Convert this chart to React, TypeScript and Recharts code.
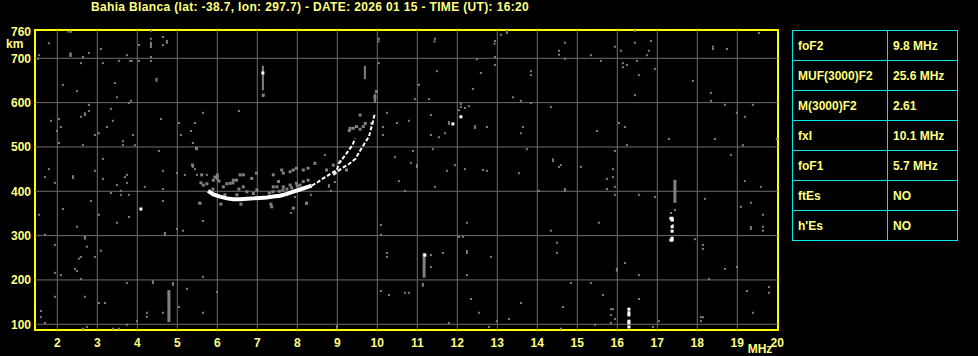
import { ScatterChart, Scatter, XAxis, YAxis, ReferenceLine, ReferenceArea } from 'recharts';

const TITLE = 'Bahia Blanca (lat: -38.7, lon: 297.7) - DATE: 2026 01 15 - TIME (UT): 16:20';

const X_TICKS = [2, 3, 4, 5, 6, 7, 8, 9, 10, 11, 12, 13, 14, 15, 16, 17, 18, 19, 20];
const Y_TICKS = [100, 200, 300, 400, 500, 600, 700, 760];
const X_GRID = [2, 3, 4, 5, 6, 7, 8, 9, 10, 11, 12, 13, 14, 15, 16, 17, 18, 19];
const Y_GRID = [100, 200, 300, 400, 500, 600, 700];
const X_MIN = 1.4425, X_MAX = 20.0175;
const Y_MIN = 87.1, Y_MAX = 763.8;

const PARAM_NAMES = ['foF2', 'MUF(3000)F2', 'M(3000)F2', 'fxI', 'foF1', 'ftEs', "h'Es"];
const PARAM_VALUES = ['9.8 MHz', '25.6 MHz', '2.61', '10.1 MHz', '5.7 MHz', 'NO', 'NO'];

// ordinary trace, thick lower part (freq MHz, virtual height km)
const O_LOW: [number, number][] = [
  [5.77, 401], [5.9, 393], [6.07, 388], [6.24, 384], [6.4, 382], [6.57, 382], [6.74, 383],
  [6.9, 384], [7.07, 385], [7.24, 386], [7.4, 388], [7.57, 390], [7.74, 394], [7.9, 399],
  [8.07, 404], [8.23, 409], [8.36, 413],
];
// ordinary trace, upper part
const O_HIGH: [number, number][] = [
  [8.36, 413], [8.49, 419], [8.61, 427], [8.74, 434], [8.86, 441], [8.99, 448], [9.04, 463],
  [9.17, 478], [9.29, 493], [9.38, 504], [9.44, 519],
];
// extraordinary trace
const X_TRACE: [number, number][] = [
  [8.9, 437], [9.11, 452], [9.3, 462], [9.46, 474], [9.58, 493], [9.71, 512], [9.79, 523],
  [9.89, 557], [9.94, 576],
];

// grey echoes around the trace
const FUZZ: [number, number][] = [
  [5.94, 432], [5.9, 425], [6.32, 418], [6.4, 425], [6.65, 437], [6.65, 410], [6.86, 429],
  [7.15, 617], [7.4, 437], [7.4, 410], [7.53, 422], [7.65, 441], [7.65, 410], [7.82, 444],
  [7.9, 448], [7.98, 452], [8.15, 448], [8.27, 452], [7.82, 414], [7.98, 418], [8.15, 422],
  [8.27, 425], [8.07, 414], [8.44, 463], [8.73, 448], [8.9, 459], [9.07, 467], [9.32, 542],
  [9.4, 542], [9.48, 546], [9.57, 572], [9.65, 546], [9.86, 553], [9.94, 613], [9.98, 625],
  [5.38, 459], [5.48, 497], [5.61, 437], [5.65, 414], [5.57, 373], [6.15, 410], [6.48, 425],
  [6.57, 437], [6.98, 441], [7.61, 448], [7.9, 362], [8.23, 373], [7.36, 365], [9.23, 448],
  [9.3, 537], [9.57, 540], [9.7, 553], [5.59, 419], [5.74, 417], [5.89, 405], [6.04, 423],
  [6.24, 417], [6.39, 419], [6.54, 405], [6.74, 399], [6.99, 403], [7.39, 399], [7.49, 410],
  [7.64, 403], [6.09, 371], [6.59, 371], [7.34, 371], [6.19, 392], [6.49, 392],
  [7.74, 405], [7.86, 408], [8.0, 412], [7.3, 396], [7.55, 400], [6.9, 395],
];

// scattered grey noise
const NOISE: [number, number][] = [
  [1.52, 699], [1.79, 734], [1.54, 707], [2.28, 760], [2.34, 760], [2.33, 706], [2.33, 711], [2.64, 703],
  [2.79, 712], [2.59, 689], [3.09, 721], [3.14, 689], [3.54, 694], [3.74, 707], [3.82, 694],
  [3.86, 694], [4.04, 730], [4.04, 694], [4.34, 762], [4.34, 744], [4.34, 703], [4.34, 694],
  [4.64, 748], [4.64, 730], [4.74, 735], [4.74, 739], [2.14, 640], [2.49, 626], [3.44, 644],
  [3.49, 612], [3.84, 604], [3.79, 599], [7.14, 615], [2.79, 595], [2.69, 572], [2.69, 576],
  [2.79, 581], [2.59, 568], [1.84, 559], [2.04, 563], [2.09, 545], [1.99, 536], [2.04, 509],
  [2.64, 504], [3.34, 586], [3.39, 559], [3.24, 545], [3.04, 531], [2.94, 527], [3.89, 527],
  [3.64, 513], [3.64, 504], [3.94, 504], [4.59, 563], [5.04, 554], [5.09, 527], [5.34, 536],
  [5.44, 554], [5.64, 577], [6.54, 581], [5.39, 509], [5.49, 495], [4.54, 491], [3.14, 473],
  [1.79, 450], [1.69, 432], [2.39, 430], [2.39, 434], [2.94, 446], [3.14, 428], [3.69, 432],
  [3.74, 437], [4.64, 446], [4.99, 441], [5.19, 437], [5.39, 455], [5.39, 459], [5.44, 450],
  [5.49, 437], [5.74, 437],
  [10.04, 744], [10.04, 689], [11.44, 744], [11.49, 671], [11.04, 640], [10.94, 608],
  [11.29, 608], [13.09, 753], [13.24, 762], [12.94, 739], [12.94, 703], [12.94, 685],
  [12.49, 698], [12.59, 667], [12.39, 631], [13.39, 612], [13.59, 604], [13.84, 671],
  [13.84, 662], [13.84, 599], [12.09, 597], [12.09, 590], [12.04, 583], [12.19, 588],
  [12.29, 592], [11.79, 552], [11.79, 556], [11.34, 572], [10.79, 559], [10.49, 554],
  [10.24, 577], [10.14, 545], [10.14, 527], [11.34, 527], [11.54, 522], [11.69, 531],
  [12.44, 547], [12.44, 543], [12.74, 545], [13.64, 545], [13.59, 531], [13.74, 495],
  [11.39, 495], [10.89, 491], [10.44, 477], [10.84, 464], [10.99, 455], [10.99, 459],
  [11.94, 459], [12.19, 450], [12.64, 448], [12.74, 446], [11.74, 446], [13.54, 441],
  [9.94, 605], [8.69, 482], [8.44, 464], [10.03, 738], [11.43, 738], [12.93, 733],
  [13.24, 757], [14.54, 708],
  [14.69, 735], [14.54, 717], [14.69, 699], [15.34, 707], [15.59, 694], [15.94, 726],
  [16.09, 717], [16.44, 762], [16.44, 735], [16.84, 739], [16.79, 717], [16.74, 707],
  [16.49, 694], [16.14, 689], [16.24, 685], [16.14, 680], [16.94, 676], [16.54, 662],
  [16.44, 617], [17.89, 649], [18.34, 622], [18.34, 604], [18.39, 721], [18.39, 726],
  [18.74, 721], [19.54, 757], [14.34, 590], [18.69, 595], [19.39, 595], [18.99, 577],
  [19.19, 568], [16.04, 554], [16.19, 545], [15.49, 536], [17.29, 518], [18.44, 518],
  [19.99, 518], [16.24, 504], [19.14, 504], [15.94, 491], [18.84, 482], [14.39, 468],
  [14.39, 472], [14.54, 455], [14.59, 459], [15.09, 455], [15.89, 450], [15.89, 432],
  [15.74, 428],
  [1.94, 419], [3.49, 414], [3.74, 419], [4.19, 410], [4.64, 405], [3.34, 396], [3.59, 401],
  [3.59, 392], [3.79, 392], [2.84, 378], [4.64, 378], [2.14, 360], [1.54, 347], [3.04, 347],
  [3.79, 342], [3.49, 329], [2.49, 320], [4.69, 302], [4.69, 306], [4.99, 315], [5.14, 311],
  [5.54, 374], [5.64, 333], [1.69, 302], [2.69, 293], [2.69, 297], [1.94, 279], [2.74, 275],
  [3.09, 266], [2.94, 252], [2.59, 252], [2.54, 248], [2.44, 225], [2.49, 220], [1.94, 216],
  [2.09, 211], [2.59, 202], [3.74, 193], [4.39, 193], [4.39, 197], [4.89, 189], [4.89, 193],
  [5.24, 180], [5.64, 207], [5.99, 173], [1.94, 162], [2.69, 162], [3.04, 148], [3.19, 148],
  [1.59, 130], [1.59, 116], [1.69, 103], [4.24, 126], [4.24, 117], [4.64, 126], [5.04, 139],
  [5.64, 126], [3.99, 107], [3.74, 99], [2.64, 90], [2.74, 94], [3.39, 90], [3.54, 90],
  [10.54, 423], [11.44, 410], [10.69, 401], [8.84, 401], [8.34, 392], [8.24, 374], [7.94, 387],
  [7.84, 351], [8.79, 410], [8.79, 414], [8.94, 421], [10.09, 324], [10.09, 302], [12.24, 329],
  [12.04, 297], [12.14, 297], [12.24, 261], [12.24, 265], [12.84, 252], [11.64, 261],
  [11.34, 256], [11.34, 229], [10.24, 261], [10.24, 252], [12.24, 211], [10.09, 175],
  [10.29, 166], [10.69, 171], [10.79, 171], [12.34, 157], [12.54, 126], [13.59, 148],
  [13.29, 112], [12.99, 107], [12.79, 94], [11.79, 103], [8.99, 92], [8.99, 96], [11.14, 191],
  [11.14, 187],
  [14.04, 401], [14.69, 401], [14.69, 405], [15.74, 405], [15.94, 410], [15.94, 392],
  [16.54, 392], [16.94, 387], [18.19, 383], [19.19, 423], [19.59, 410], [19.34, 374],
  [19.09, 365], [19.64, 347], [19.34, 315], [19.34, 319], [19.64, 320], [19.64, 311],
  [15.54, 329], [14.34, 311], [14.49, 284], [14.49, 261], [17.94, 292], [18.14, 279],
  [18.14, 270], [16.19, 238], [15.99, 221], [15.99, 225], [16.54, 211], [18.29, 202],
  [18.69, 225], [18.99, 229], [14.84, 193], [15.34, 193], [15.64, 166], [16.54, 157],
  [14.64, 139], [15.84, 134], [15.89, 134], [15.84, 121], [15.94, 112], [15.84, 103],
  [15.44, 99], [14.59, 90], [16.89, 94], [17.04, 107], [18.09, 116], [18.14, 116],
  [18.09, 107], [19.24, 175], [19.79, 184], [19.79, 171], [19.39, 126], [17.44, 358],
  [17.34, 351], [17.39, 335], [17.39, 324],
];

// isolated white echoes
const WHITE_DOTS: [number, number][] = [
  [4.09, 360], [16.29, 134], [16.29, 126], [16.29, 121], [16.29, 107], [16.29, 103],
  [16.29, 94], [17.37, 339], [17.34, 339], [17.37, 335], [17.37, 320], [17.37, 310],
  [17.37, 294], [17.37, 290], [17.34, 290], [11.19, 256], [12.09, 568], [11.89, 552], [7.14, 667],
];

// vertical grey streaks: freq, low km, high km, px width
const STREAKS: [number, number, number, number][] = [
  [4.34, 723, 737, 2], [4.48, 647, 656, 2], [7.14, 628, 683, 2], [9.69, 653, 683, 2],
  [4.79, 105, 177, 3], [11.17, 205, 261, 3], [17.44, 374, 426, 3], [2.33, 703, 712, 2],
  [9.94, 600, 620, 2], [6.0, 425, 440, 3],
];

const GRID = '#6e6e6e';
const GREY = '#808080';
const YELLOW = '#ffff00';
const TEXT = '#ffff80';
const CYAN = '#00e8e8';
const FONT = '"Liberation Sans", Arial, sans-serif';

const toPts = (arr: [number, number][]) => arr.map(([f, h]) => ({ f, h }));

const square = (color: string, s = 2) => (props: any) => (
  <rect x={props.cx - s / 2} y={props.cy - s / 2} width={s} height={s} fill={color} />
);
const nothing = () => <g />;

export default function App() {
  const tick = { fill: TEXT, fontSize: 12, fontWeight: 700, fontFamily: FONT };
  return (
    <div style={{ position: 'absolute', left: 0, top: 0, width: 978, height: 356, background: '#000', overflow: 'hidden', fontFamily: FONT }}>
      <div style={{ position: 'absolute', left: 310, top: 0, transform: 'translateX(-50%)', whiteSpace: 'nowrap', color: TEXT, fontSize: 12, fontWeight: 700, lineHeight: '14px', letterSpacing: '0.35px' }}>
        {TITLE}
      </div>
      <div style={{ position: 'absolute', left: 6, top: 37, color: TEXT, fontSize: 12, fontWeight: 700, lineHeight: '14px' }}>km</div>
      <div style={{ position: 'absolute', left: 760, top: 342, transform: 'translateX(-50%)', color: TEXT, fontSize: 12, fontWeight: 700, lineHeight: '14px' }}>MHz</div>

      <ScatterChart width={978} height={356} margin={{ top: 30, right: 200, bottom: 0, left: 0 }} style={{ position: 'absolute', left: 0, top: 0 }}>
        <XAxis type="number" dataKey="f" domain={[X_MIN, X_MAX]} ticks={X_TICKS} allowDataOverflow
          height={26} axisLine={false} tickLine={false} tickSize={0} tickMargin={8} tick={tick} interval={0} />
        <YAxis type="number" dataKey="h" domain={[Y_MIN, Y_MAX]} ticks={Y_TICKS} allowDataOverflow
          width={35} axisLine={false} tickLine={false} tickSize={0} tickMargin={4} tick={tick} interval={0} />
        {X_GRID.map(v => <ReferenceLine key={'gx' + v} x={v} stroke={GRID} strokeWidth={1} />)}
        {Y_GRID.map(v => <ReferenceLine key={'gy' + v} y={v} stroke={GRID} strokeWidth={1} />)}
        {STREAKS.map(([f, h1, h2, w], i) => (
          <ReferenceLine key={'s' + i} segment={[{ x: f, y: h1 }, { x: f, y: h2 }]} stroke={GREY} strokeWidth={w} />
        ))}
        <Scatter data={toPts(NOISE)} shape={square(GREY)} isAnimationActive={false} />
        <Scatter data={toPts(FUZZ)} shape={square(GREY, 3)} isAnimationActive={false} />
        <Scatter data={toPts(O_LOW)} shape={nothing} line={{ stroke: '#ffffff', strokeWidth: 4 }} lineType="joint" isAnimationActive={false} />
        <Scatter data={toPts(O_HIGH)} shape={nothing} line={{ stroke: '#ffffff', strokeWidth: 2, strokeDasharray: '4 2' }} lineType="joint" isAnimationActive={false} />
        <Scatter data={toPts(X_TRACE)} shape={nothing} line={{ stroke: '#ffffff', strokeWidth: 2, strokeDasharray: '4 2' }} lineType="joint" isAnimationActive={false} />
        <Scatter data={toPts(WHITE_DOTS)} shape={square('#ffffff', 3)} isAnimationActive={false} />
        <ReferenceArea x1={X_MIN} x2={X_MAX} y1={Y_MIN} y2={Y_MAX} fill="none" fillOpacity={0} stroke={YELLOW} strokeWidth={2} />
      </ScatterChart>

      <table style={{ position: 'absolute', left: 792, top: 30, borderCollapse: 'collapse', tableLayout: 'fixed', width: 165, color: TEXT, fontSize: 12, fontWeight: 700 }}>
        <tbody>
          {PARAM_NAMES.map((name, i) => (
            <tr key={name} style={{ height: 30 }}>
              <td style={{ border: `1px solid ${CYAN}`, width: 95, padding: '0 0 0 5px', boxSizing: 'border-box', whiteSpace: 'nowrap' }}>{name}</td>
              <td style={{ border: `1px solid ${CYAN}`, width: 70, padding: '0 0 0 5px', boxSizing: 'border-box', whiteSpace: 'nowrap' }}>{PARAM_VALUES[i]}</td>
            </tr>
          ))}
        </tbody>
      </table>
    </div>
  );
}
